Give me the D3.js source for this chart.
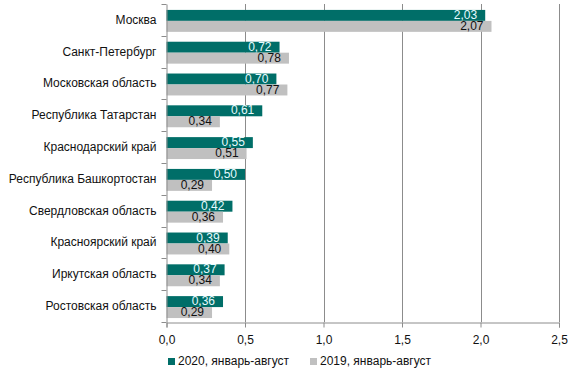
<!DOCTYPE html>
<html>
<head>
<meta charset="utf-8">
<script src="https://cdn.jsdelivr.net/npm/d3@7"></script>
<style>
  body { margin: 0; background: #fff; }
  svg { font-family: "Liberation Sans", Arial, sans-serif; }
</style>
</head>
<body>
<div id="chart"></div>
<script>
const regions = [
  'Москва', 'Санкт-Петербург', 'Московская область', 'Республика Татарстан',
  'Краснодарский край', 'Республика Башкортостан', 'Свердловская область',
  'Красноярский край', 'Иркутская область', 'Ростовская область'
];
const values2020 = [2.03, 0.72, 0.70, 0.61, 0.55, 0.50, 0.42, 0.39, 0.37, 0.36];
const values2019 = [2.07, 0.78, 0.77, 0.34, 0.51, 0.29, 0.36, 0.40, 0.34, 0.29];
const seriesNames = ['2020, январь-август', '2019, январь-август'];
const xTicks = [0, 0.5, 1.0, 1.5, 2.0, 2.5];

const width = 583, height = 375;
const margin = { top: 4, right: 24, bottom: 53, left: 166.5 };
const colors = ['#006e68', '#c0c0c0'];
const labelColors = ['#e6fbff', '#111'];

const svg = d3.select('#chart').append('svg')
  .attr('width', width).attr('height', height);

const x = d3.scaleLinear().domain([0, 2.5]).range([margin.left, width - margin.right]);
const y = d3.scaleBand().domain(regions).range([margin.top, height - margin.bottom]);
const inner = d3.scaleBand().domain([0, 1]).range([0, y.bandwidth()])
  .paddingOuter(0.45).paddingInner(0).align(0.6);

const fmt = v => d3.format('.2f')(v).replace('.', ',');
const fmtTick = v => d3.format('.1f')(v).replace('.', ',');

// gridlines
svg.append('g').selectAll('line').data(xTicks.slice(1)).join('line')
  .attr('x1', d => Math.round(x(d)) + 0.5).attr('x2', d => Math.round(x(d)) + 0.5)
  .attr('y1', margin.top).attr('y2', height - margin.bottom)
  .attr('stroke', '#8c8c8c').attr('stroke-width', 1);

// bars
const series = [values2020, values2019];
const groups = svg.append('g').selectAll('g').data(regions).join('g')
  .attr('transform', d => `translate(0,${y(d)})`);

series.forEach((vals, si) => {
  groups.append('rect')
    .attr('x', x(0))
    .attr('y', inner(si))
    .attr('width', (d, i) => x(vals[i]) - x(0))
    .attr('height', inner.bandwidth())
    .attr('fill', colors[si]);
  groups.append('text')
    .attr('x', (d, i) => x(vals[i]) - 8)
    .attr('y', inner(si) + inner.bandwidth() / 2 + 0.5)
    .attr('dominant-baseline', 'middle')
    .attr('text-anchor', 'end')
    .attr('font-size', 12)
    .attr('fill', labelColors[si])
    .text((d, i) => fmt(vals[i]));
});

// y axis
const yAxis = svg.append('g')
  .attr('transform', `translate(${Math.round(x(0)) - 0.5},0)`)
  .call(d3.axisLeft(y).tickSize(0).tickPadding(10));
yAxis.select('.domain').attr('stroke', '#8c8c8c');
yAxis.selectAll('text').attr('font-size', 12).attr('fill', '#111');
yAxis.append('g').selectAll('line').data(regions.concat([null])).join('line')
  .attr('x1', -5).attr('x2', 0)
  .attr('y1', (d, i) => Math.round(margin.top + i * y.step()) + 0.5)
  .attr('y2', (d, i) => Math.round(margin.top + i * y.step()) + 0.5)
  .attr('stroke', '#8c8c8c');

// x axis
const xAxis = svg.append('g')
  .attr('transform', `translate(0,${Math.round(height - margin.bottom) + 0.5})`)
  .call(d3.axisBottom(x).tickValues(xTicks).tickFormat(fmtTick).tickSize(5).tickPadding(8));
xAxis.select('.domain').attr('stroke', '#8c8c8c');
xAxis.selectAll('.tick line').attr('stroke', '#8c8c8c');
xAxis.selectAll('text').attr('font-size', 12).attr('fill', '#111');

// legend
const legendX = [168, 310];
const legend = svg.append('g').selectAll('g').data(seriesNames).join('g')
  .attr('transform', (d, i) => `translate(${legendX[i]},362)`);
legend.append('rect').attr('x', 0).attr('y', -4).attr('width', 7).attr('height', 7)
  .attr('fill', (d, i) => colors[i]);
legend.append('text').attr('x', 10).attr('y', 0)
  .attr('dominant-baseline', 'middle').attr('font-size', 12).attr('fill', '#111')
  .text(d => d);
</script>
</body>
</html>
